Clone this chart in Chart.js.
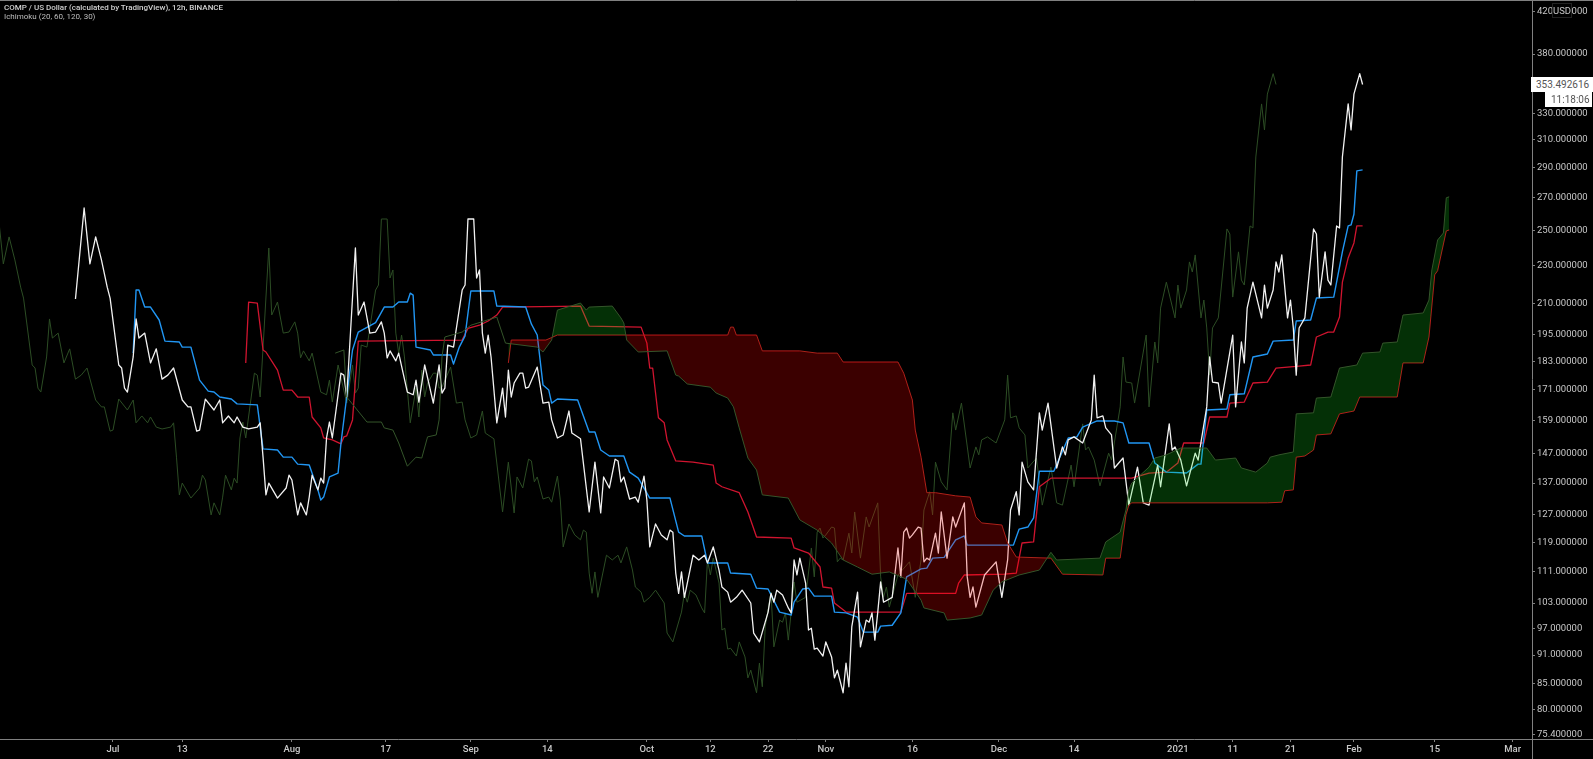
<!DOCTYPE html>
<html>
<head>
<meta charset="utf-8">
<title>COMP / US Dollar</title>
<script src="https://cdn.jsdelivr.net/npm/chart.js@4"></script>
<style>
  html, body { margin: 0; background: #000; overflow: hidden; }
  #wrap { position: relative; width: 1593px; height: 759px; font-family: Roboto, sans-serif; }
  #legend { position: absolute; left: 4px; top: 4px; font-size: 8px; line-height: 8.5px; color: #bdbdbd; }
  #legend b { font-weight: 500; color: #d0d0d0; }
  .tag { position: absolute; background: #fff; color: #555; font-size: 10px; line-height: 15px; text-align: left; }
  #usd { position: absolute; left: 1552px; top: 3px; width: 20px; height: 15px; box-sizing: border-box;
         border: 1px solid #222; background: #000; color: #c8c8c8; font-size: 9.5px; line-height: 13px; text-align: center; }
</style>
</head>
<body>
<div id="wrap">
  <canvas id="chart" width="1593" height="759"></canvas>
  <div id="legend"><b>COMP / US Dollar (calculated by TradingView), 12h, BINANCE</b><br>Ichimoku (20, 60, 120, 30)</div>
  <div class="tag" style="left:1531px;top:77px;width:57px;height:15px;padding-left:5px">353.492616</div>
  <div class="tag" style="left:1545px;top:92px;width:41px;height:15px;padding-left:6px">11:18:06</div>
  <div id="usd">USD</div>
</div>
<script>
// x axis is counted in 12h bars from 1 Jul 2020
const tickBars = [0, 24, 62, 94.5, 124, 150.5, 185, 207, 227, 247, 277, 307, 333, 369, 388, 408, 430, 458, 485];
const tickLabels = ["Jul", "13", "Aug", "17", "Sep", "14", "Oct", "12", "22", "Nov", "16", "Dec", "14", "2021", "11", "21", "Feb", "15", "Mar"];
const priceTicks = [420, 380, 330, 310, 290, 270, 250, 230, 210, 195, 183, 171, 159, 147, 137, 127, 119, 111, 103, 97, 91, 85, 80, 75.4];

// close, the lagging span is the same values moved back 30 bars
const closeBars = [-13, -10, -8, -6, -4, -2, -1, 2, 3, 4, 5, 7, 8, 9, 11, 13, 15, 17, 19, 21, 24, 26, 27, 29, 30, 32, 35, 37, 38, 40, 42, 43, 45, 47, 50, 51, 52, 53, 54, 57, 60, 61, 62, 64, 65, 67, 68, 69, 71, 72, 73, 74, 75, 76, 79, 80, 81, 84, 85, 87, 89, 91, 93, 94, 95, 96, 98, 99, 102, 104, 105, 106, 108, 111, 113, 114, 115, 116, 118, 121, 122, 123, 125, 126, 127, 128, 129, 130, 131, 133, 135, 136, 137, 138, 139, 141, 142, 143, 144, 147, 149, 151, 152, 154, 156, 158, 159, 162, 165, 167, 169, 170, 172, 174, 175, 176, 177, 179, 181, 182, 184, 185, 186, 188, 190, 192, 193, 194, 195, 196, 197, 198, 201, 203, 205, 206, 208, 210, 211, 213, 214, 216, 218, 221, 222, 224, 227, 228, 229, 230, 232, 234, 235, 236, 237, 238, 240, 241, 242, 243, 244, 246, 247, 249, 250, 251, 253, 254, 255, 256, 258, 259, 261, 262, 263, 264, 265, 266, 267, 270, 272, 273, 274, 275, 276, 277, 279, 280, 281, 282, 283, 285, 286, 287, 289, 291, 292, 295, 296, 297, 298, 299, 302, 306, 308, 310, 311, 313, 314, 315, 317, 319, 321, 322, 324, 327, 329, 330, 331, 333, 336, 339, 340, 341, 343, 344, 346, 347, 350, 352, 355, 357, 359, 362, 363, 366, 367, 368, 370, 372, 375, 376, 379, 380, 381, 383, 384, 388, 389, 391, 392, 393, 395, 398, 399, 400, 402, 403, 404, 405, 407, 408, 409, 410, 411, 413, 416, 417, 418, 420, 421, 422, 424, 425, 426, 428, 429, 430, 432, 433];
const closeValues = [212.2, 263.5, 230.7, 246.0, 232.9, 218.3, 212.7, 181.4, 180.1, 171.7, 170.1, 184.9, 202.4, 193.4, 195.7, 182.3, 188.5, 175.4, 177.1, 180.1, 166.9, 164.2, 164.2, 155.0, 155.4, 167.3, 163.0, 166.9, 158.1, 160.7, 158.1, 160.3, 156.5, 155.8, 156.5, 158.1, 145.7, 133.2, 137.0, 132.2, 135.4, 139.6, 138.0, 127.0, 130.7, 127.0, 132.5, 139.6, 134.8, 138.6, 137.0, 152.5, 158.4, 152.5, 177.9, 177.1, 168.1, 239.6, 204.3, 210.7, 195.7, 196.2, 201.0, 195.7, 184.5, 187.6, 183.2, 186.6, 170.1, 169.0, 175.0, 166.1, 181.4, 165.7, 181.4, 169.7, 171.7, 190.2, 189.3, 216.8, 219.4, 256.7, 256.7, 223.1, 227.4, 195.7, 186.6, 194.8, 184.9, 158.1, 171.7, 160.3, 179.2, 168.1, 173.8, 177.9, 177.9, 171.7, 172.1, 180.5, 165.7, 166.1, 159.2, 152.5, 153.6, 162.6, 154.3, 152.2, 127.9, 144.0, 127.6, 139.0, 135.4, 145.0, 144.4, 137.4, 139.0, 131.9, 132.5, 130.9, 139.3, 131.6, 117.7, 124.3, 121.1, 119.7, 122.5, 121.9, 110.6, 105.4, 110.9, 104.4, 115.4, 114.1, 115.4, 113.3, 117.7, 111.4, 107.0, 105.7, 103.2, 104.4, 106.2, 103.0, 95.9, 93.9, 100.8, 105.4, 103.2, 106.2, 105.0, 101.8, 100.6, 114.1, 110.1, 114.6, 108.0, 96.6, 97.0, 92.3, 92.5, 90.8, 93.9, 90.6, 86.2, 87.8, 83.2, 89.3, 84.4, 97.3, 105.7, 92.8, 98.9, 98.4, 100.6, 94.3, 100.8, 108.3, 103.2, 104.4, 117.4, 109.6, 121.9, 123.1, 120.2, 121.1, 123.4, 123.1, 113.6, 114.6, 114.1, 121.6, 116.0, 127.9, 114.6, 126.4, 123.4, 130.7, 109.6, 104.4, 107.0, 102.0, 110.1, 113.6, 104.4, 114.1, 128.5, 134.2, 127.0, 144.0, 137.4, 134.8, 161.9, 155.4, 165.7, 142.0, 149.3, 146.5, 151.8, 152.9, 150.7, 159.2, 177.1, 160.0, 160.7, 156.2, 153.6, 142.0, 145.4, 130.0, 142.3, 130.7, 130.0, 143.0, 135.8, 157.7, 148.2, 149.3, 144.7, 136.1, 147.1, 144.7, 164.2, 184.9, 174.2, 173.8, 165.7, 194.8, 164.2, 191.6, 182.3, 207.7, 220.9, 202.9, 219.4, 207.7, 216.8, 231.8, 226.3, 235.7, 202.9, 211.7, 198.1, 177.1, 198.1, 202.9, 250.7, 247.7, 213.2, 237.4, 222.0, 219.4, 252.5, 251.3, 297.5, 337.5, 317.3, 345.5, 362.7, 353.49];

// conversion line (20)
const tenkanBars = [7, 8, 9, 11, 13, 16, 18, 23, 24, 27, 30, 33, 35, 37, 41, 43, 50, 52, 57, 59, 62, 64, 68, 71, 72, 73, 75, 78, 79, 83, 85, 91, 94, 97, 99, 102, 103, 104, 105, 110, 111, 117, 118, 120, 122, 124, 132, 133, 143, 145, 147, 149, 151, 152, 154, 161, 165, 167, 169, 172, 177, 179, 182, 186, 193, 196, 198, 204, 206, 213, 214, 221, 223, 227, 231, 235, 236, 239, 241, 243, 249, 250, 254, 258, 260, 265, 266, 270, 273, 275, 280, 282, 284, 288, 292, 295, 296, 312, 314, 317, 319, 321, 326, 331, 334, 336, 341, 347, 350, 352, 359, 361, 365, 372, 376, 377, 379, 386, 387, 392, 395, 400, 402, 409, 410, 415, 417, 423, 426, 428, 429, 430, 431, 433];
const tenkanValues = [186.6, 216.8, 216.8, 208.2, 208.2, 201.9, 192.0, 191.6, 189.3, 189.3, 175.0, 170.5, 170.1, 168.1, 167.3, 165.4, 165.0, 148.6, 148.2, 145.7, 145.7, 143.3, 143.0, 134.8, 131.6, 132.5, 139.0, 140.3, 150.7, 188.0, 196.2, 200.6, 208.2, 208.2, 210.7, 210.7, 215.2, 214.2, 189.3, 188.0, 185.8, 185.8, 181.8, 189.3, 194.4, 216.3, 216.3, 208.7, 208.2, 199.9, 194.8, 173.0, 170.9, 165.7, 167.3, 166.9, 154.7, 154.7, 148.2, 146.1, 146.1, 140.6, 138.6, 132.2, 132.2, 121.9, 120.8, 120.8, 113.3, 113.3, 110.6, 110.3, 106.7, 106.5, 100.8, 100.1, 103.2, 106.5, 106.7, 104.7, 104.7, 100.8, 100.6, 99.6, 96.1, 96.1, 97.5, 97.7, 100.6, 109.6, 111.7, 111.9, 114.6, 114.8, 119.7, 120.8, 118.2, 118.2, 122.8, 123.4, 126.1, 140.9, 140.9, 152.5, 152.9, 156.5, 158.8, 158.8, 158.1, 150.7, 150.7, 143.7, 140.6, 140.3, 143.3, 143.3, 163.0, 163.4, 169.0, 169.4, 184.9, 186.2, 192.0, 192.5, 201.4, 201.9, 212.7, 213.2, 237.4, 252.5, 253.1, 259.6, 287.8, 288.5];

// base line (60)
const kijunBars = [46, 47, 50, 52, 53, 57, 59, 62, 64, 68, 69, 72, 73, 76, 79, 80, 81, 83, 85, 121, 123, 127, 130, 133, 135, 162, 165, 183, 185, 186, 187, 189, 191, 192, 195, 201, 208, 209, 211, 217, 220, 223, 235, 236, 241, 245, 246, 249, 250, 254, 273, 275, 292, 293, 295, 309, 313, 315, 319, 321, 325, 353, 359, 365, 369, 371, 378, 380, 386, 387, 392, 395, 400, 403, 411, 415, 417, 421, 423, 425, 426, 428, 430, 431, 433];
const kijunValues = [182.3, 210.7, 210.2, 188.0, 187.1, 179.2, 170.9, 170.9, 168.1, 168.1, 160.3, 156.2, 152.5, 151.8, 150.4, 152.9, 153.3, 159.2, 192.0, 192.5, 197.9, 199.4, 201.4, 204.3, 208.2, 208.7, 199.0, 198.5, 191.1, 180.1, 180.1, 160.0, 158.1, 151.8, 144.4, 144.0, 143.0, 137.0, 135.8, 133.9, 127.9, 120.5, 120.2, 117.4, 116.0, 112.2, 107.0, 106.7, 103.0, 100.8, 100.8, 105.4, 105.4, 108.0, 110.1, 110.3, 110.6, 118.8, 119.1, 135.8, 138.6, 138.6, 140.3, 140.6, 143.7, 150.7, 150.7, 160.3, 160.3, 165.7, 166.1, 173.8, 174.2, 180.1, 180.9, 181.4, 193.9, 196.2, 196.2, 203.3, 220.9, 234.0, 242.5, 252.5, 252.5];

// leading span A
const spanABars = [77, 80, 81, 88, 93, 94, 97, 99, 102, 105, 107, 109, 112, 113, 114, 115, 121, 124, 133, 136, 147, 149, 152, 154, 162, 164, 165, 173, 176, 177, 178, 182, 192, 195, 196, 199, 207, 209, 213, 215, 217, 220, 223, 225, 234, 238, 244, 249, 253, 258, 263, 269, 275, 280, 281, 288, 289, 297, 301, 305, 308, 314, 321, 325, 327, 342, 344, 349, 351, 352, 353, 359, 361, 365, 370, 379, 382, 389, 391, 396, 400, 401, 404, 409, 410, 416, 417, 422, 425, 431, 433, 439, 440, 445, 447, 454, 456, 457, 459, 461, 462, 463];
const spanAValues = [186.6, 188.0, 168.1, 158.4, 158.4, 156.2, 155.4, 150.7, 142.6, 145.7, 145.4, 152.9, 153.6, 159.2, 184.9, 193.9, 196.2, 199.4, 203.3, 191.1, 189.3, 187.1, 192.5, 206.7, 210.2, 206.7, 208.2, 208.7, 202.9, 200.5, 192.5, 187.1, 187.6, 177.1, 176.7, 173.4, 172.1, 169.7, 167.7, 164.2, 156.2, 145.4, 141.3, 133.2, 132.2, 125.5, 122.5, 118.8, 114.1, 112.2, 110.3, 110.9, 109.0, 103.7, 101.8, 100.6, 98.9, 99.4, 100.1, 106.2, 108.3, 110.1, 111.4, 116.2, 114.1, 114.6, 119.1, 121.9, 128.5, 134.8, 137.0, 142.3, 145.4, 146.5, 148.9, 148.9, 144.7, 145.4, 142.0, 140.6, 143.7, 145.7, 146.5, 147.5, 161.5, 161.9, 167.7, 168.1, 180.1, 181.4, 186.6, 187.1, 191.1, 191.6, 204.3, 205.3, 211.7, 227.4, 244.2, 248.3, 270.0, 270.6];

// leading span B
const spanBBars = [137, 138, 150, 154, 213, 214, 215, 216, 223, 225, 238, 244, 251, 253, 272, 274, 277, 278, 280, 282, 285, 292, 297, 299, 301, 308, 310, 313, 325, 329, 343, 344, 349, 351, 352, 353, 400, 405, 406, 409, 410, 413, 416, 417, 422, 425, 430, 432, 445, 447, 454, 456, 458, 459, 462, 463];
const spanBValues = [182.3, 192.5, 192.5, 194.8, 194.8, 198.5, 198.5, 194.8, 194.8, 187.6, 187.6, 186.6, 186.6, 182.7, 182.7, 177.9, 166.9, 155.4, 145.7, 133.9, 133.9, 132.9, 132.5, 126.4, 124.6, 124.0, 118.8, 114.9, 114.6, 110.3, 110.1, 114.6, 114.6, 127.0, 130.0, 130.7, 130.7, 130.9, 134.5, 134.8, 145.7, 146.1, 148.2, 153.6, 154.0, 161.5, 162.6, 168.1, 168.1, 182.3, 182.3, 193.9, 224.8, 227.0, 249.5, 250.1];

const lagShift = 30;

const toPoints = (bars, values) => bars.map((bar, i) => ({ x: bar, y: values[i] }));

const lineStyle = (color, width) => ({
  borderColor: color,
  borderWidth: width,
  pointRadius: 0,
  tension: 0,
  borderJoinStyle: "round",
  fill: false,
});

// axis lines run past the plot area in the original, so they are drawn by hand
const frameLines = {
  id: "frameLines",
  afterDraw(chart) {
    const { ctx, chartArea, width, height } = chart;
    ctx.save();
    ctx.strokeStyle = "#808080";
    ctx.lineWidth = 1;
    ctx.beginPath();
    ctx.moveTo(0, 0.5);
    ctx.lineTo(width, 0.5);
    ctx.moveTo(0, chartArea.bottom + 0.5);
    ctx.lineTo(width, chartArea.bottom + 0.5);
    ctx.moveTo(chartArea.right + 0.5, 0);
    ctx.lineTo(chartArea.right + 0.5, height);
    ctx.stroke();
    ctx.restore();
  },
};

new Chart(document.getElementById("chart"), {
  type: "line",
  plugins: [frameLines],
  data: {
    datasets: [
      // first in the list is painted last, the cloud goes over the other lines
      {
        label: "Lead 1",
        data: toPoints(spanABars, spanAValues),
        ...lineStyle("#34552a", 1),
        fill: { target: 1, above: "rgba(20, 240, 30, 0.2)", below: "rgba(255, 0, 0, 0.23)" },
      },
      { label: "Lead 2", data: toPoints(spanBBars, spanBValues), ...lineStyle("#b01c1c", 1) },
      { label: "Close", data: toPoints(closeBars, closeValues), ...lineStyle("#f2f2f2", 1.3) },
      { label: "Conversion", data: toPoints(tenkanBars, tenkanValues), ...lineStyle("#2196f3", 1.4) },
      { label: "Base", data: toPoints(kijunBars, kijunValues), ...lineStyle("#d0142f", 1.3) },
      { label: "Lagging", data: toPoints(closeBars.map((b) => b - lagShift), closeValues), ...lineStyle("#2c4d24", 1) },
    ],
  },
  options: {
    responsive: false,
    animation: false,
    layout: { padding: { top: 1, left: 0, right: 0, bottom: 0 } },
    plugins: { legend: { display: false }, tooltip: { enabled: false }, title: { display: false } },
    scales: {
      x: {
        type: "linear",
        min: -39.15,
        max: 491.7,
        afterBuildTicks: (axis) => { axis.ticks = tickBars.map((b) => ({ value: b })); },
        afterFit: (axis) => { axis.height = 20; axis.paddingLeft = 0; axis.paddingRight = 0; },
        grid: { drawOnChartArea: false, tickLength: 3, color: "#808080" },
        border: { display: false },
        ticks: {
          autoSkip: false,
          maxRotation: 0,
          padding: 2,
          color: "#c8c8c8",
          font: { family: "Roboto", size: 9.5, weight: "500" },
          callback: (value) => tickLabels[tickBars.indexOf(value)],
        },
      },
      y: {
        type: "logarithmic",
        position: "right",
        min: 74.54,
        max: 431.1,
        afterBuildTicks: (axis) => { axis.ticks = priceTicks.map((v) => ({ value: v })); },
        afterFit: (axis) => { axis.width = 61; axis.paddingTop = 0; axis.paddingBottom = 0; },
        grid: { drawOnChartArea: false, tickLength: 3, color: "#808080" },
        border: { display: false },
        ticks: {
          autoSkip: false,
          crossAlign: "near",
          padding: 2,
          color: "#c8c8c8",
          font: { family: "Roboto", size: 9.5 },
          callback: (value) => value.toFixed(6),
        },
      },
    },
  },
});
</script>
</body>
</html>
